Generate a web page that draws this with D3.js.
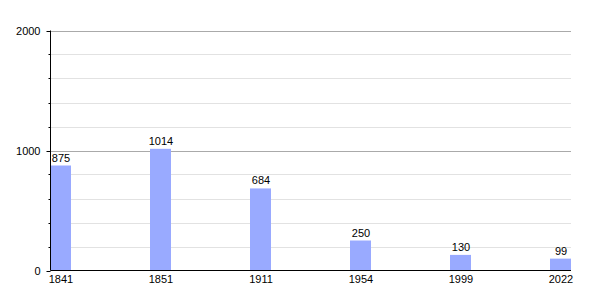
<!DOCTYPE html>
<html>
<head>
<meta charset="utf-8">
<script src="https://cdn.jsdelivr.net/npm/d3@7"></script>
<style>
  body { margin: 0; background: #fff; }
  svg { display: block; font-family: "Liberation Sans", Arial, sans-serif; }
</style>
</head>
<body>
<div id="chart"></div>
<script>
const years = ['1841', '1851', '1911', '1954', '1999', '2022'];
const population = [875, 1014, 684, 250, 130, 99];
const majorTicks = [0, 1000, 2000];
const minorTicks = [200, 400, 600, 800, 1200, 1400, 1600, 1800];

const width = 600;
const height = 300;
const plotLeft = 50.5;
const plotRight = 571;
const plotTop = 30.5;
const plotBottom = 270.5;
const slot = 100;
const barWidth = 21;

const y = d3.scaleLinear().domain([0, 2000]).range([plotBottom, plotTop]);
const x = d3.scaleBand().domain(years).range([plotLeft, plotLeft + slot * years.length]).padding(0);

const svg = d3.select('#chart')
  .append('svg')
  .attr('width', width)
  .attr('height', height)
  .style('font-size', '11px');

// gridlines
svg.append('g')
  .selectAll('line')
  .data(minorTicks)
  .join('line')
  .attr('x1', plotLeft)
  .attr('x2', plotRight)
  .attr('y1', d => Math.round(y(d)) + 0.5)
  .attr('y2', d => Math.round(y(d)) + 0.5)
  .attr('stroke', '#e2e2e2');

svg.append('g')
  .selectAll('line')
  .data(majorTicks.slice(1))
  .join('line')
  .attr('x1', plotLeft)
  .attr('x2', plotRight)
  .attr('y1', d => Math.round(y(d)) + 0.5)
  .attr('y2', d => Math.round(y(d)) + 0.5)
  .attr('stroke', '#aaaaaa');

// bars
svg.append('g')
  .selectAll('rect')
  .data(population)
  .join('rect')
  .attr('x', (d, i) => x(years[i]) - 0.5)
  .attr('y', d => y(d))
  .attr('width', barWidth)
  .attr('height', d => plotBottom - y(d))
  .attr('fill', '#99aaff');

svg.append('g')
  .selectAll('text')
  .data(population)
  .join('text')
  .attr('x', (d, i) => x(years[i]) + barWidth / 2)
  .attr('y', d => y(d) - 4)
  .attr('text-anchor', 'middle')
  .attr('fill', '#000')
  .text(d => d);

// axes
const yAxis = svg.append('g');
yAxis.append('line')
  .attr('x1', plotLeft).attr('x2', plotLeft)
  .attr('y1', plotTop).attr('y2', plotBottom)
  .attr('stroke', '#000');
yAxis.selectAll('.minor')
  .data(minorTicks)
  .join('line')
  .attr('class', 'minor')
  .attr('x1', plotLeft - 2).attr('x2', plotLeft)
  .attr('y1', d => Math.round(y(d)) + 0.5)
  .attr('y2', d => Math.round(y(d)) + 0.5)
  .attr('stroke', '#000');
yAxis.selectAll('.major')
  .data(majorTicks)
  .join('line')
  .attr('class', 'major')
  .attr('x1', plotLeft - 4).attr('x2', plotLeft)
  .attr('y1', d => Math.round(y(d)) + 0.5)
  .attr('y2', d => Math.round(y(d)) + 0.5)
  .attr('stroke', '#000');
yAxis.selectAll('text')
  .data(majorTicks)
  .join('text')
  .attr('x', plotLeft - 10)
  .attr('y', d => y(d) + 4)
  .attr('text-anchor', 'end')
  .text(d => d);

const xAxis = svg.append('g');
xAxis.append('line')
  .attr('x1', plotLeft).attr('x2', plotRight)
  .attr('y1', plotBottom).attr('y2', plotBottom)
  .attr('stroke', '#000');
xAxis.selectAll('text')
  .data(years)
  .join('text')
  .attr('x', d => x(d) + barWidth / 2)
  .attr('y', plotBottom + 12)
  .attr('text-anchor', 'middle')
  .text(d => d);
</script>
</body>
</html>
